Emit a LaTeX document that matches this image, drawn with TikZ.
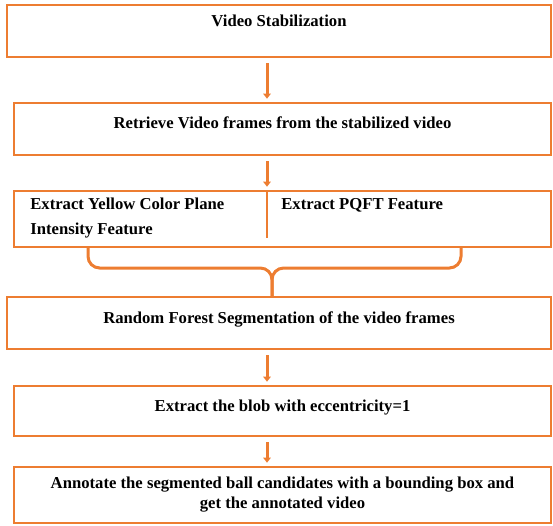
\documentclass[tikz,border=0pt]{standalone}
\usepackage{fontspec}
\setmainfont{Liberation Serif}
\usetikzlibrary{arrows.meta,positioning}
\definecolor{flowshade}{RGB}{237,125,49}

\begin{document}
\begin{tikzpicture}[
    x=0.6pt, y=-0.6pt,
    stage/.style={rectangle, draw=flowshade, line width=1.2pt, fill=white,
        anchor=north, inner ysep=0pt, font=\bfseries},
    featlabel/.style={anchor=base west, inner sep=0pt, font=\bfseries},
    flow/.style={draw=flowshade, line width=1.8pt,
        -{Triangle[length=3pt,width=4.5pt]}, shorten <=3pt, shorten >=2pt},
    brace/.style={draw=flowshade, line width=1.8pt, rounded corners=7pt}
]
\useasboundingbox (0,0) rectangle (553,525);
% processing stages
\node[stage, minimum width=326.4pt, minimum height=31.2pt,
    text height=12.6pt, text depth=18.6pt] (stab) at (279,4) {Video Stabilization};
\node[stage, minimum width=322.2pt, minimum height=31.2pt,
    text height=15pt, text depth=16.2pt] (frames) at (282.5,102)
    {Retrieve Video frames from the stabilized video};
\node[stage, minimum width=322.2pt, minimum height=33.6pt] (feat) at (282.5,190) {};
\node[stage, minimum width=326.4pt, minimum height=31.2pt,
    text height=15.6pt, text depth=15.6pt] (rfseg) at (279,296)
    {Random Forest Segmentation of the video frames};
\node[stage, minimum width=322.2pt, minimum height=30pt,
    text height=15pt, text depth=15pt] (blob) at (282.5,385)
    {Extract the blob with eccentricity=1};
\node[stage, minimum width=322.2pt, minimum height=33.6pt, align=center] (annot) at (282.5,466)
    {Annotate the segmented ball candidates with a bounding box and\\get the annotated video};
% feature labels
\node[featlabel] (yellow) at (30,209) {Extract Yellow Color Plane};
\node[featlabel] (intens) at (30,234) {Intensity Feature};
\node[featlabel] (pqft) at (281,209) {Extract PQFT Feature};
% connectors
\coordinate (axis) at (267,0);
\coordinate (bl) at (88,0);
\coordinate (br) at (461,0);
\coordinate (cusp) at (272,268);
\draw[flow] (stab.south -| axis) -- (frames.north -| axis);
\draw[flow] (frames.south -| axis) -- (feat.north -| axis);
\draw[draw=flowshade, line width=1.2pt] (feat.north -| axis) -- ++(0,48);
\draw[brace] (feat.south -| bl) |- (cusp) -- (rfseg.north -| cusp);
\draw[brace] (feat.south -| br) |- (cusp) -- (rfseg.north -| cusp);
\draw[flow] (rfseg.south -| axis) -- (blob.north -| axis);
\draw[flow] (blob.south -| axis) -- (annot.north -| axis);
\end{tikzpicture}
\end{document}
